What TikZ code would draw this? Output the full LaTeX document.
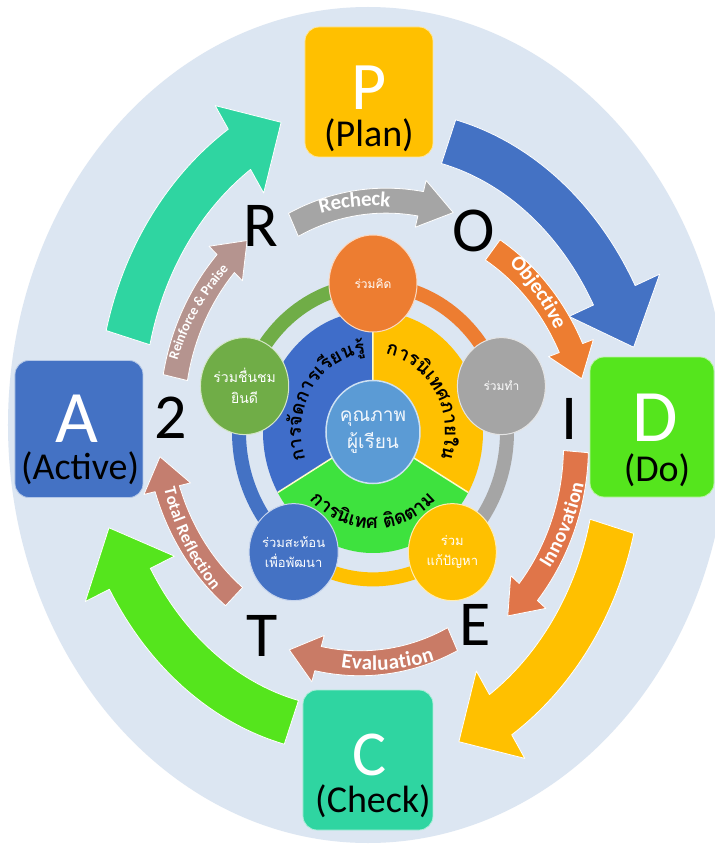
\documentclass[tikz,border=0pt]{standalone}
\usepackage{fontspec}
\setmainfont{Carlito}
\newfontfamily\thaifont[Script=Thai]{Loma}
\usetikzlibrary{decorations.text,shapes.geometric}
\definecolor{bgc}{HTML}{DCE6F2}
\definecolor{pyel}{HTML}{FFC000}
\definecolor{dgrn}{HTML}{55E51D}
\definecolor{cteal}{HTML}{2FD5A1}
\definecolor{ablue}{HTML}{4472C4}
\definecolor{orng}{HTML}{ED7D31}
\definecolor{gry}{HTML}{A5A5A5}
\definecolor{grn2}{HTML}{70AD47}
\definecolor{innov}{HTML}{E07549}
\definecolor{evalc}{HTML}{C97B66}
\definecolor{totc}{HTML}{C47E6F}
\definecolor{reinf}{HTML}{B5948F}
\definecolor{piegreen}{HTML}{3EE23E}
\definecolor{pieblue}{HTML}{3F6DC9}
\definecolor{ctrc}{HTML}{5B9BD5}
% curved arrow: #1 colour, #2 cx, #3 cy, #4 rx, #5 ry, #6 tail angle, #7 tip angle, #8 head-base angle
\newcommand{\crvarrow}[8]{%
 \pgfmathsetmacro\arK{(\arfb-\arfa)/((#7)-(#6))}%
 \pgfmathsetmacro\arFh{\arfa+\arK*((#8)-(#6))}%
 \fill[#1, draw=white, line width=0.8pt, line join=round]
  plot[domain=#6:#8, samples=40] ({#2+((\arfa+\arK*(\x-(#6)))*#4+\araw)*cos(\x)}, {#3+((\arfa+\arK*(\x-(#6)))*#5+\araw)*sin(\x)})
  -- ({#2+(\arFh*#4+\arhw)*cos(#8)}, {#3+(\arFh*#5+\arhw)*sin(#8)})
  -- ({#2+\arfb*#4*cos(#7)}, {#3+\arfb*#5*sin(#7)})
  -- ({#2+(\arFh*#4-\arhw)*cos(#8)}, {#3+(\arFh*#5-\arhw)*sin(#8)})
  -- plot[domain=#8:#6, samples=40] ({#2+((\arfa+\arK*(\x-(#6)))*#4-\araw)*cos(\x)}, {#3+((\arfa+\arK*(\x-(#6)))*#5-\araw)*sin(\x)})
  -- cycle;}
% text along elliptic arc: #1 text, #2 cx, #3 cy, #4 rx, #5 ry, #6 from, #7 to, #8 raise, #9 colour
\newcommand{\crvtext}[9]{%
 \path[decorate, decoration={text along path, text align=center, raise=#8, text color=#9, text={#1}}]
  plot[domain=#6:#7, samples=60] ({#2+#4*cos(\x)},{#3+#5*sin(\x)});}
\begin{document}
\begin{tikzpicture}[x=1pt,y=1pt,
  pbox/.style={rounded corners=14pt, inner sep=0pt, draw=white!60!#1, line width=0.8pt, fill=#1},
  bigletter/.style={text=white, font=\fontsize{#1}{#1}\selectfont, inner sep=0pt},
  boxname/.style={text=black, font=\fontsize{38}{40}\selectfont, inner sep=0pt},
  rolet/.style={text=black, font=\fontsize{64}{64}\selectfont, inner sep=0pt},
  bubble/.style={ellipse, fill=#1, draw=white!70!#1, line width=1pt, minimum width=88pt, minimum height=97pt, inner sep=0pt, text=white, align=center},
  ringseg/.style={line width=14pt, draw=#1},
]
\useasboundingbox (-373,-412) rectangle (342,432);
\fill[white] (-373,-412) rectangle (342,432);
\fill[bgc] (-5,7) ellipse[x radius=360pt, y radius=418pt];

% outer PDCA arrows
\def\arfa{0.96}\def\arfb{1.03}\def\araw{23}\def\arhw{50}
\crvarrow{cteal}{-3}{0}{265}{318}{162}{109}{119}
\crvarrow{ablue}{-3}{0}{265}{318}{72}{15}{25}
\crvarrow{pyel}{-3}{0}{265}{318}{-18}{-71}{-61}
\crvarrow{dgrn}{-3}{0}{265}{318}{252}{197}{207}

% PDCA boxes
\node[pbox=pyel, minimum width=128pt, minimum height=130pt] (P) at (-4,340) {};
\node[pbox=ablue, minimum width=128pt, minimum height=137pt] (A) at (-294,3) {};
\node[pbox=dgrn, minimum width=124pt, minimum height=140pt] (D) at (279,5) {};
\node[pbox=cteal, minimum width=130pt, minimum height=140pt] (C) at (-5,-328) {};
\node[bigletter=68] (Pl) at (-4,344) {P};
\node[boxname] (Pn) at (-4,297) {(Plan)};
\node[bigletter=74] (Al) at (-296,13) {A};
\node[boxname] (An) at (-293,-36) {(Active)};
\node[bigletter=74] (Dl) at (282,14) {D};
\node[boxname] (Dn) at (284,-38) {(Do)};
\node[bigletter=64] (Cl) at (-3,-323) {C};
\node[boxname] (Cn) at (0,-369) {(Check)};

% ROIET2 arrows
\def\arfa{0.97}\def\arfb{1.02}\def\araw{12.5}\def\arhw{24}
\crvarrow{gry}{0}{0}{210}{232}{113}{68}{77}
\crvarrow{orng}{0}{0}{210}{232}{54}{13}{21}
\crvarrow{innov}{0}{0}{210}{232}{-5}{-51}{-43}
\crvarrow{evalc}{0}{0}{210}{232}{-67}{-113}{-105}
\crvarrow{totc}{0}{0}{210}{232}{227}{186}{194}
\crvarrow{reinf}{0}{0}{210}{232}{166}{126}{134}
\crvtext{|\bfseries\fontsize{21}{21}\selectfont|Recheck}{0}{0}{210}{232}{112}{78}{-6pt}{white}
\crvtext{|\bfseries\fontsize{21}{21}\selectfont|Objective}{0}{0}{210}{232}{53}{22}{-6pt}{white}
\crvtext{|\bfseries\fontsize{20}{20}\selectfont|Innovation}{0}{0}{210}{232}{-42}{-6}{-6pt}{white}
\crvtext{|\bfseries\fontsize{21}{21}\selectfont|Evaluation}{0}{0}{210}{232}{-104}{-68}{-6pt}{white}
\crvtext{|\bfseries\fontsize{17}{17}\selectfont|Total Reflection}{0}{0}{210}{232}{190}{226}{-5pt}{white}
\crvtext{|\bfseries\fontsize{14}{14}\selectfont|Reinforce {\&} Praise}{0}{0}{210}{232}{165}{131}{-4pt}{white}

\node[rolet] (R) at (-112,206) {R};
\node[rolet] (O) at (101,201) {O};
\node[rolet] (I) at (197,13) {I};
\node[rolet] (E) at (102,-193) {E};
\node[rolet] (T) at (-111,-204) {T};
\node[rolet] (two) at (-202,14) {2};

% inner wheel
\begin{scope}[yscale=1.1]
\draw[ringseg=orng] (90:134pt) arc[start angle=90,end angle=18,radius=134pt];
\draw[ringseg=gry] (18:134pt) arc[start angle=18,end angle=-54,radius=134pt];
\draw[ringseg=pyel] (-54:134pt) arc[start angle=-54,end angle=-126,radius=134pt];
\draw[ringseg=ablue] (-126:134pt) arc[start angle=-126,end angle=-198,radius=134pt];
\draw[ringseg=grn2] (162:134pt) arc[start angle=162,end angle=90,radius=134pt];
\fill[pieblue] (0,0) -- (90:110pt) arc[start angle=90,end angle=210,radius=110pt] -- cycle;
\fill[pyel] (0,0) -- (-30:110pt) arc[start angle=-30,end angle=90,radius=110pt] -- cycle;
\fill[piegreen] (0,0) -- (210:110pt) arc[start angle=210,end angle=330,radius=110pt] -- cycle;
\draw[white!80!yellow, line width=1.5pt] (0,0) -- (90:110pt) (0,0) -- (210:110pt) (0,0) -- (330:110pt);
\node[bubble=orng, font=\thaifont\fontsize{12}{15}\selectfont] (c1) at (90:135pt) {ร่วมคิด};
\node[bubble=gry, font=\thaifont\fontsize{12}{15}\selectfont] (c2) at (18:135pt) {ร่วมทำ};
\node[bubble=pyel, font=\thaifont\fontsize{13}{20}\selectfont] (c3) at (-54:135pt) {ร่วม\\แก้ปัญหา};
\node[bubble=ablue, font=\thaifont\fontsize{13}{20}\selectfont] (c4) at (234:135pt) {ร่วมสะท้อน\\เพื่อพัฒนา};
\node[bubble=grn2, font=\thaifont\fontsize{14}{21}\selectfont] (c5) at (162:135pt) {ร่วมชื่นชม\\ยินดี};
\node[ellipse, fill=ctrc, draw=white!70!ctrc, line width=1.5pt, minimum width=94pt, minimum height=103pt, inner sep=0pt, text=white!92!ctrc, align=center, font=\thaifont\fontsize{19}{27}\selectfont] (Q) at (0,0) {คุณภาพ\\ผู้เรียน};
\end{scope}

% curved Thai texts on the pie
\crvtext{|\thaifont\bfseries\fontsize{19}{19}\selectfont|การ{จั}ดการเ{รี}ยน{รู้}}{0}{0}{72}{79}{215}{80}{0pt}{black}
\crvtext{|\thaifont\bfseries\fontsize{19}{19}\selectfont|การ{นิ}เทศภายใน}{0}{0}{72}{79}{100}{-38}{0pt}{black}
\crvtext{|\thaifont\bfseries\fontsize{19}{19}\selectfont|การ{นิ}เทศ {ติ}ดตาม}{0}{0}{88}{97}{215}{325}{0pt}{black}
\end{tikzpicture}
\end{document}
